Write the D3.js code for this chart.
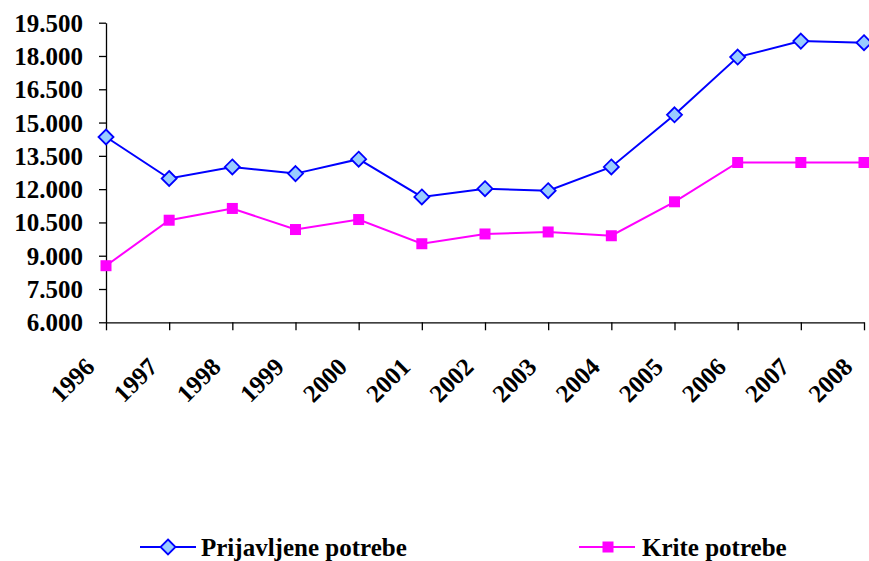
<!DOCTYPE html>
<html>
<head>
<meta charset="utf-8">
<script src="https://cdn.jsdelivr.net/npm/d3@7"></script>
<style>
  body { margin: 0; background: #fff; }
  svg text { font-family: "Liberation Serif", "Times New Roman", serif; font-weight: bold; fill: #000; }
</style>
</head>
<body>
<svg id="chart" width="869" height="561"></svg>
<script>
// chart data
var years = ["1996","1997","1998","1999","2000","2001","2002","2003","2004","2005","2006","2007","2008"];
var prijavljene = [14350, 12480, 13000, 12700, 13350, 11650, 12020, 11930, 13000, 15350, 17950, 18670, 18600];
var krite = [8550, 10600, 11130, 10180, 10630, 9540, 9980, 10070, 9900, 11430, 13200, 13200, 13200];
var yTicks = [6000, 7500, 9000, 10500, 12000, 13500, 15000, 16500, 18000, 19500];
var seriesNames = ["Prijavljene potrebe", "Krite potrebe"];

var svg = d3.select("#chart"),
  plotLeft = 106, plotRight = 864, plotTop = 22.7, plotBottom = 322.3;

var hr = d3.formatLocale({decimal: ",", thousands: ".", grouping: [3], currency: ["", ""]});
var fmt = hr.format(",");

var x = d3.scalePoint().domain(years).range([plotLeft, plotRight]);
var y = d3.scaleLinear().domain([6000, 19500]).range([plotBottom, plotTop]);

// y axis
var yAxis = svg.append("g")
  .attr("transform", "translate(" + plotLeft + ",0)")
  .call(d3.axisLeft(y).tickValues(yTicks).tickFormat(fmt).tickSizeInner(7).tickSizeOuter(0).tickPadding(16));
yAxis.selectAll("text").style("font-size", "25px").attr("dy", "0.34em");

// x axis
var xAxis = svg.append("g")
  .attr("transform", "translate(0," + plotBottom + ")")
  .call(d3.axisBottom(x).tickSizeInner(8).tickSizeOuter(0).tickFormat(""));
xAxis.selectAll(".tick text").remove();

svg.selectAll(".domain, .tick line").attr("stroke", "#000").attr("stroke-width", 1.3);

svg.append("g").selectAll("text")
  .data(years)
  .join("text")
  .attr("transform", function (d) { return "translate(" + (x(d) - 10) + "," + (plotBottom + 46) + ") rotate(-45)"; })
  .attr("text-anchor", "end")
  .style("font-size", "25px")
  .text(function (d) { return d; });

var line = d3.line()
  .x(function (d, i) { return x(years[i]); })
  .y(function (d) { return y(d); });

// blue series
svg.append("path")
  .datum(prijavljene)
  .attr("fill", "none")
  .attr("stroke", "#0000ff")
  .attr("stroke-width", 2)
  .attr("d", line);

// magenta series
svg.append("path")
  .datum(krite)
  .attr("fill", "none")
  .attr("stroke", "#ff00ff")
  .attr("stroke-width", 2)
  .attr("d", line);

var diamond = function (cx, cy, s) {
  return "M" + cx + "," + (cy - s) + "L" + (cx + s) + "," + cy + "L" + cx + "," + (cy + s) + "L" + (cx - s) + "," + cy + "Z";
};

svg.append("g").selectAll("path")
  .data(prijavljene)
  .join("path")
  .attr("d", function (d, i) { return diamond(x(years[i]), y(d), 7.5); })
  .attr("fill", "#99ccff")
  .attr("stroke", "#0000ff")
  .attr("stroke-width", 1.8);

svg.append("g").selectAll("rect")
  .data(krite)
  .join("rect")
  .attr("x", function (d, i) { return x(years[i]) - 5.5; })
  .attr("y", function (d) { return y(d) - 5.5; })
  .attr("width", 11)
  .attr("height", 11)
  .attr("fill", "#ff00ff");

// legend
var lg = svg.append("g");
lg.append("line").attr("x1", 140).attr("x2", 196).attr("y1", 547).attr("y2", 547)
  .attr("stroke", "#0000ff").attr("stroke-width", 2);
lg.append("path").attr("d", diamond(168, 547, 7.5))
  .attr("fill", "#99ccff").attr("stroke", "#0000ff").attr("stroke-width", 1.8);
lg.append("text").attr("x", 201).attr("y", 556).style("font-size", "25px").text(seriesNames[0]);

lg.append("line").attr("x1", 579).attr("x2", 635).attr("y1", 547).attr("y2", 547)
  .attr("stroke", "#ff00ff").attr("stroke-width", 2);
lg.append("rect").attr("x", 602.5).attr("y", 541.5).attr("width", 11).attr("height", 11)
  .attr("fill", "#ff00ff");
lg.append("text").attr("x", 642).attr("y", 556).style("font-size", "25px").text(seriesNames[1]);
</script>
</body>
</html>
